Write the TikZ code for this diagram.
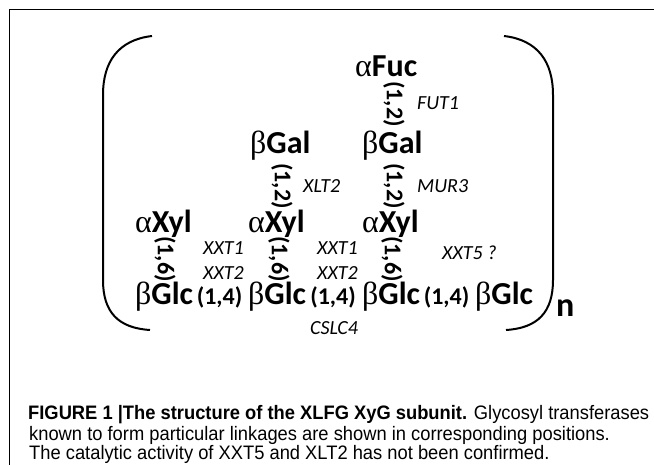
\documentclass[tikz,border=0pt]{standalone}
\usepackage{fontspec}
\setmainfont{Carlito}
\newfontfamily\gk{Liberation Serif}
\newfontfamily\capfont[FakeStretch=0.94]{Liberation Sans}
\begin{document}
\begin{tikzpicture}[x=1pt,y=-1pt,
  sugar/.style={font=\bfseries\fontsize{32}{32}\selectfont, inner sep=0pt, anchor=base west},
  lnk/.style={font=\bfseries\fontsize{24}{24}\selectfont, inner sep=0pt},
  vlnk/.style={lnk, rotate=-90},
  enz/.style={font=\itshape\fontsize{20}{20}\selectfont, inner sep=0pt, anchor=base west},
  capt/.style={font=\capfont\fontsize{19.5}{19.5}\selectfont, inner sep=0pt, anchor=base west},
  paren/.style={line width=2pt},
  frame/.style={line width=1pt}]
\useasboundingbox (0,0) rectangle (654,465);
% frame
\coordinate (fb) at (9.5,465);
\coordinate (fc) at (9.5,9.5);
\coordinate (fr) at (654,9.5);
\draw[frame] (fb) -- (fc) -- (fr);
% big brackets
\coordinate (lt) at (152,36);
\coordinate (lb) at (150,330);
\coordinate (rt) at (504,36);
\coordinate (rb) at (506,330);
\draw[paren] (lt) .. controls (118,40) and (103,62) .. (103,95) -- (103,280) .. controls (103,312) and (118,328) .. (lb);
\draw[paren] (rt) .. controls (538,40) and (553,62) .. (553,95) -- (553,280) .. controls (553,312) and (538,328) .. (rb);
% backbone
\node[sugar] (glc1) at (135,305) {{\gk\mdseries β}Glc};
\node[sugar] (glc2) at (248,305) {{\gk\mdseries β}Glc};
\node[sugar] (glc3) at (362,305) {{\gk\mdseries β}Glc};
\node[sugar] (glc4) at (475,305) {{\gk\mdseries β}Glc};
\node[lnk, anchor=base] (l14a) at (219.5,305) {(1,4)};
\node[lnk, anchor=base] (l14b) at (333,305) {(1,4)};
\node[lnk, anchor=base] (l14c) at (446.5,305) {(1,4)};
% xylose
\node[sugar] (xyl1) at (135,233) {{\gk\mdseries α}Xyl};
\node[sugar] (xyl2) at (248,233) {{\gk\mdseries α}Xyl};
\node[sugar] (xyl3) at (362,233) {{\gk\mdseries α}Xyl};
\node[vlnk] (l16a) at (165,259) {(1,6)};
\node[vlnk] (l16b) at (279,259) {(1,6)};
\node[vlnk] (l16c) at (392,259) {(1,6)};
% galactose
\node[sugar] (gal1) at (250,154) {{\gk\mdseries β}Gal};
\node[sugar] (gal2) at (362,154) {{\gk\mdseries β}Gal};
\node[vlnk] (l12a) at (282,186) {(1,2)};
\node[vlnk] (l12b) at (394,186) {(1,2)};
% fucose
\node[sugar] (fuc) at (355,77) {{\gk\mdseries α}Fuc};
\node[vlnk] (l12c) at (394,104) {(1,2)};
% enzymes
\node[enz] (fut1) at (417,110) {FUT1};
\node[enz] (xlt2) at (303,193) {XLT2};
\node[enz] (mur3) at (417,193) {MUR3};
\node[enz] (xxt1a) at (203,255) {XXT1};
\node[enz] (xxt1b) at (317,255) {XXT1};
\node[enz] (xxt2a) at (203,280) {XXT2};
\node[enz] (xxt2b) at (317,280) {XXT2};
\node[enz] (xxt5) at (442,260) {XXT5 ?};
\node[enz] (cslc4) at (310,335) {CSLC4};
\node[font=\bfseries\fontsize{34}{34}\selectfont, inner sep=0pt, anchor=base west] (n) at (556,317) {n};
% caption
\node[capt] (cap1) at (28,420) {\textbf{FIGURE 1 |The structure of the XLFG XyG subunit.} Glycosyl transferases};
\node[capt] (cap2) at (29,440) {known to form particular linkages are shown in corresponding positions.};
\node[capt] (cap3) at (29,459.5) {The catalytic activity of XXT5 and XLT2 has not been confirmed.};
\end{tikzpicture}
\end{document}
